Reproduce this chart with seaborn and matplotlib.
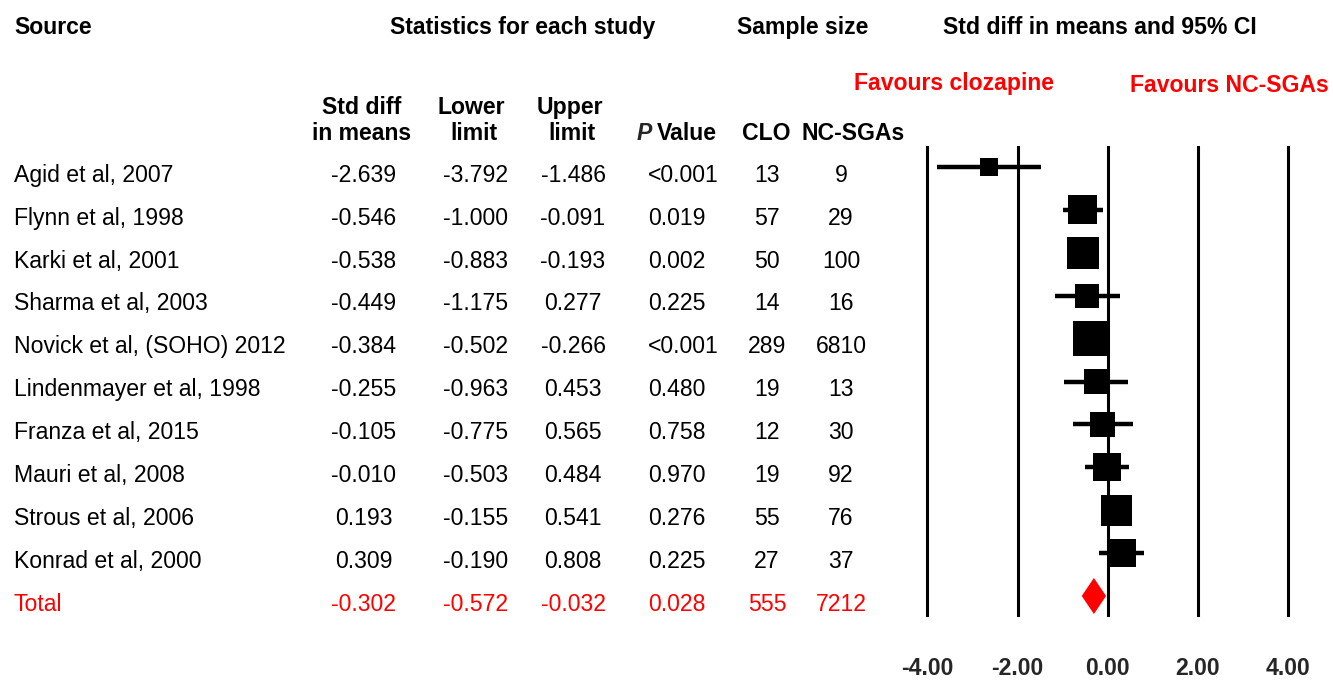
import numpy as np
import pandas as pd
import matplotlib
matplotlib.use("Agg")
import matplotlib.pyplot as plt
import matplotlib.transforms as mtransforms
import seaborn as sns

# ---- study-level data -------------------------------------------------------
studies = ["Agid et al, 2007", "Flynn et al, 1998", "Karki et al, 2001",
           "Sharma et al, 2003", "Novick et al, (SOHO) 2012",
           "Lindenmayer et al, 1998", "Franza et al, 2015", "Mauri et al, 2008",
           "Strous et al, 2006", "Konrad et al, 2000"]
smd = [-2.639, -0.546, -0.538, -0.449, -0.384, -0.255, -0.105, -0.010, 0.193, 0.309]
lower = [-3.792, -1.000, -0.883, -1.175, -0.502, -0.963, -0.775, -0.503, -0.155, -0.190]
upper = [-1.486, -0.091, -0.193, 0.277, -0.266, 0.453, 0.565, 0.484, 0.541, 0.808]
p_values = ["<0.001", "0.019", "0.002", "0.225", "<0.001", "0.480", "0.758",
            "0.970", "0.276", "0.225"]
n_clo = [13, 57, 50, 14, 289, 19, 12, 19, 55, 27]
n_ncsga = [9, 29, 100, 16, 6810, 13, 30, 92, 76, 37]
rel_weight = [4.19, 10.86, 12.98, 7.57, 15.37, 7.62, 8.27, 10.13, 12.66, 10.35]

# ---- pooled estimate --------------------------------------------------------
total_label = "Total"
total_smd = -0.302
total_lower = -0.572
total_upper = -0.032
total_p = "0.028"
total_clo = 555
total_ncsga = 7212

x_ticks = [-4, -2, 0, 2, 4]
x_tick_labels = ["-4.00", "-2.00", "0.00", "2.00", "4.00"]

# ---- styling ----------------------------------------------------------------
sns.set_style("white")
plt.rcParams["font.family"] = ["Liberation Sans", "DejaVu Sans"]
FS = 16.6
RED = "#ff0000"

W, H = 1333, 680
fig = plt.figure(figsize=(W / 100, H / 100), dpi=100)


def fx(px):
    return px / W


def fy(py):
    return 1 - py / H


# forest-plot panel
ax = fig.add_axes([fx(923), fy(617), fx(1292) - fx(923), fy(146) - fy(617)])
ax.set_xlim(-4.1, 4.1)
ax.set_ylim(10.49, -0.49)
ax.axis("off")

df = pd.DataFrame({"study": studies, "smd": smd, "lower": lower, "upper": upper,
                   "weight": rel_weight, "row": np.arange(len(studies))})
total_row = len(studies)

for t in x_ticks:
    ax.axvline(t, color="black", lw=2.2, zorder=1)

ax.hlines(df["row"], df["lower"], df["upper"], color="black", lw=3.2, zorder=3)
w_max = max(rel_weight)
sns.scatterplot(data=df, x="smd", y="row", size="weight",
                sizes=(0, 617), size_norm=(0, w_max), marker="s",
                color="black", linewidth=0, legend=False, ax=ax, zorder=4)
ax.set_xlabel("")
ax.set_ylabel("")
ax.set_xlim(-4.1, 4.1)
ax.set_ylim(10.49, -0.49)

half_h = 0.42
ax.fill([total_lower, total_smd, total_upper, total_smd],
        [total_row, total_row - half_h, total_row, total_row + half_h],
        color=RED, lw=0, zorder=5)

# axis tick labels
tick_trans = mtransforms.blended_transform_factory(ax.transData, fig.transFigure)
for t, lab in zip(x_ticks, x_tick_labels):
    ax.text(t, fy(675), lab, transform=tick_trans, ha="center", va="baseline",
            fontsize=FS, fontweight="bold")

# ---- table columns ------------------------------------------------------------
row_trans = (mtransforms.blended_transform_factory(fig.transFigure, ax.transData)
             + mtransforms.ScaledTranslation(0, -14.7 / 100, fig.dpi_scale_trans))

columns = [
    (studies + [total_label], 14, "left"),
    ([f"{v:.3f}" for v in smd + [total_smd]], 364, "center"),
    ([f"{v:.3f}" for v in lower + [total_lower]], 476, "center"),
    ([f"{v:.3f}" for v in upper + [total_upper]], 573, "center"),
    (p_values + [total_p], 648, "left"),
    ([str(v) for v in n_clo + [total_clo]], 767, "center"),
    ([str(v) for v in n_ncsga + [total_ncsga]], 841, "center"),
]
for values, xpx, ha in columns:
    for i, v in enumerate(values):
        ax.text(fx(xpx), i, v, transform=row_trans, ha=ha, va="baseline",
                fontsize=FS, color=RED if i == total_row else "black")

# ---- headers ------------------------------------------------------------------
def header(xpx, ypx, s, ha="center", color="black", style="normal"):
    return fig.text(fx(xpx), fy(ypx), s, ha=ha, va="baseline", fontsize=FS,
                    fontweight="bold", color=color, style=style)


header(14, 34, "Source", ha="left")
header(523, 34, "Statistics for each study")
header(803, 34, "Sample size")
header(1100, 34, "Std diff in means and 95% CI")
header(954, 90, "Favours clozapine", color=RED)
header(1229, 92, "Favours NC-SGAs", color=RED)

header(362, 114, "Std diff")
header(362, 140, "in means")
header(471, 114, "Lower")
header(474, 140, "limit")
header(570, 114, "Upper")
header(572, 140, "limit")
val_txt = header(717, 140, "Value", ha="right")
renderer = fig.canvas.get_renderer()
bb = val_txt.get_window_extent(renderer)
fig.text(fx(bb.x0 - 5), fy(140), "P", ha="right", va="baseline", fontsize=FS,
         fontweight="bold", style="italic")
header(766, 140, "CLO")
header(853, 140, "NC-SGAs")

fig.savefig("out.png", dpi=100)
